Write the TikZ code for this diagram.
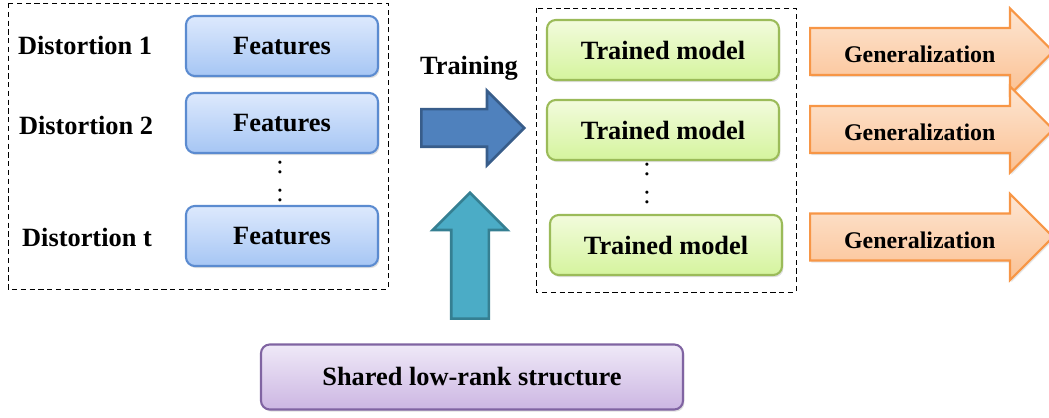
\documentclass[tikz,border=0pt]{standalone}
\usepackage{fontspec}
\setmainfont{Liberation Serif}
\usetikzlibrary{positioning,shapes.arrows,shadows,fit}
\definecolor{featline}{HTML}{5B8BD0}
\definecolor{feattop}{HTML}{DDE9FD}
\definecolor{featbot}{HTML}{A6C6F4}
\definecolor{modelline}{HTML}{9BBB59}
\definecolor{modeltop}{HTML}{F2FBDC}
\definecolor{modelbot}{HTML}{D5F49E}
\definecolor{sharedline}{HTML}{8064A2}
\definecolor{sharedtop}{HTML}{EFE9F8}
\definecolor{sharedbot}{HTML}{CCB6E2}
\definecolor{genline}{HTML}{F79646}
\definecolor{gentop}{HTML}{FDE6D3}
\definecolor{genbot}{HTML}{FBC193}
\definecolor{trainfill}{HTML}{4F81BD}
\definecolor{trainline}{HTML}{385D8A}
\definecolor{rankfill}{HTML}{4BACC6}
\definecolor{rankline}{HTML}{357F92}
\tikzset{
  bigfont/.style={font=\fontsize{15}{18}\selectfont\bfseries},
  block/.style={draw, line width=1.2pt, rounded corners=5pt, align=center,
    minimum height=1.2cm, bigfont,
    drop shadow={opacity=0.25, shadow xshift=0.8pt, shadow yshift=-1.2pt}},
  featblock/.style={block, draw=featline, top color=feattop, bottom color=featbot,
    minimum width=3.84cm},
  modelblock/.style={block, draw=modelline, top color=modeltop, bottom color=modelbot,
    minimum width=4.64cm},
  sharedblock/.style={block, draw=sharedline, top color=sharedtop, bottom color=sharedbot,
    minimum width=8.44cm, minimum height=1.3cm},
  genarrow/.style={single arrow, draw=genline, line width=1.2pt, top color=gentop,
    bottom color=genbot, font=\fontsize{13.6}{16}\selectfont\bfseries,
    text height=13pt, text depth=0pt, inner ysep=6.3pt, inner xsep=0pt,
    single arrow head extend=0.39cm, minimum height=4.86cm, anchor=tail,
    drop shadow={opacity=0.2, shadow xshift=0.8pt, shadow yshift=-1.2pt}},
  fatarrow/.style={single arrow, line width=1.5pt, inner sep=0pt,
    single arrow head extend=0.37cm, anchor=tail},
  dist/.style={bigfont},
  vdot/.style={font=\fontsize{15}{18}\selectfont, inner sep=0pt},
  groupbox/.style={draw=black, densely dashed, thin}
}
\begin{document}
\begin{tikzpicture}[x=0.2mm, y=-0.2mm]
  \useasboundingbox (0,0) rectangle (1049,418);
  % distortions and features
  \draw[groupbox] (8,3) rectangle (388,289);
  \node[dist] (d1) at (85,45) {Distortion 1};
  \node[dist] (d2) at (86,125) {Distortion 2};
  \node[dist] (dt) at (87,237) {Distortion t};
  \node[featblock] (f1) at (282,46) {Features};
  \node[featblock] (f2) at (282,123) {Features};
  \node[featblock] (ft) at (282,236) {Features};
  \node[vdot] (fa) at (280,168) {:};
  \node[vdot] (fb) at (280,196) {:};
  % training
  \node[bigfont] (train) at (469,68) {Training};
  \node[fatarrow, draw=trainline, fill=trainfill, minimum height=2.06cm,
    inner ysep=0.35cm] (tarr) at (420,128) {};
  % trained models
  \draw[groupbox] (536,8) rectangle (796,292);
  \node[modelblock] (m1) at (663,50) {Trained model};
  \node[modelblock] (m2) at (663,130) {Trained model};
  \node[modelblock] (mt) at (666,245) {Trained model};
  \node[vdot] (ma) at (647,170) {:};
  \node[vdot] (mb) at (647,198) {:};
  % generalization
  \node[genarrow] (g1) at (809,51.5) {Generalization};
  \node[genarrow] (g2) at (809,129.5) {Generalization};
  \node[genarrow] (gt) at (809,237) {Generalization};
  % shared structure
  \node[sharedblock] (s) at (472,377) {Shared low-rank structure};
  \node[fatarrow, draw=rankline, fill=rankfill, minimum height=2.52cm,
    inner xsep=0.35cm, shape border rotate=90] (rarr) at (470,320) {};
\end{tikzpicture}
\end{document}
